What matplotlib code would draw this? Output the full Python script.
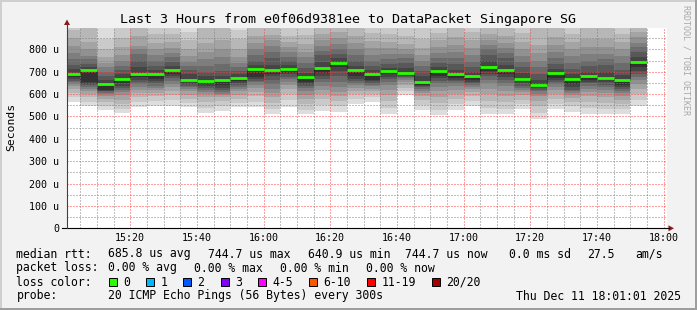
import matplotlib.pyplot as plt
from matplotlib.patches import Rectangle, Polygon

plt.rcParams['font.family'] = 'DejaVu Sans Mono'

# 5 minute slots, start time of each column
slots = ["15:00", "15:05", "15:10", "15:15", "15:20", "15:25", "15:30",
         "15:35", "15:40", "15:45", "15:50", "15:55", "16:00", "16:05",
         "16:10", "16:15", "16:20", "16:25", "16:30", "16:35", "16:40",
         "16:45", "16:50", "16:55", "17:00", "17:05", "17:10", "17:15",
         "17:20", "17:25", "17:30", "17:35", "17:40", "17:45", "17:50"]

# median rtt per slot (us)
medians = [688, 706, 645, 667, 691, 690, 706, 664, 657, 661, 670, 712,
           706, 714, 676, 718, 739, 706, 691, 702, 693, 656, 702, 688,
           679, 721, 706, 669, 640.9, 694, 666, 679, 672, 661, 744.7]

# the 20 pings of each slot (us), sorted
pings = [
    [564, 585, 605, 622, 635, 645, 652, 660, 668, 675, 688, 712, 730, 755, 785, 815, 850, 885, 925, 980],
    [545, 565, 585, 600, 612, 622, 632, 640, 646, 654, 706, 722, 736, 755, 770, 800, 835, 905, 950, 1000],
    [530, 548, 565, 580, 592, 600, 607, 612, 616, 620, 645, 662, 680, 700, 720, 740, 765, 800, 845, 960],
    [515, 535, 555, 575, 595, 608, 618, 628, 638, 648, 667, 690, 706, 725, 750, 775, 810, 850, 915, 970],
    [542, 565, 585, 605, 620, 632, 645, 655, 665, 675, 691, 720, 750, 780, 800, 815, 860, 910, 960, 1020],
    [549, 570, 590, 605, 618, 628, 638, 648, 658, 668, 690, 706, 725, 750, 775, 800, 830, 870, 915, 970],
    [549, 575, 598, 615, 630, 645, 660, 672, 682, 690, 706, 725, 745, 766, 785, 805, 835, 870, 915, 975],
    [542, 560, 580, 598, 612, 622, 630, 638, 645, 652, 664, 690, 710, 725, 745, 770, 800, 840, 880, 930],
    [515, 540, 565, 585, 600, 610, 618, 628, 636, 645, 657, 680, 700, 725, 755, 790, 830, 905, 950, 1000],
    [524, 548, 570, 585, 595, 602, 610, 618, 626, 640, 661, 680, 705, 735, 765, 800, 840, 905, 950, 1000],
    [542, 560, 580, 598, 612, 622, 632, 642, 650, 658, 670, 690, 705, 720, 740, 765, 800, 845, 885, 930],
    [542, 565, 590, 610, 628, 642, 652, 660, 668, 675, 712, 730, 750, 775, 800, 830, 860, 905, 950, 1000],
    [512, 535, 560, 585, 605, 625, 645, 665, 680, 692, 706, 730, 760, 790, 815, 840, 865, 895, 930, 990],
    [543, 575, 600, 622, 640, 655, 668, 678, 688, 696, 714, 730, 748, 768, 790, 810, 835, 860, 930, 980],
    [512, 530, 555, 578, 598, 615, 628, 638, 646, 655, 676, 695, 715, 740, 765, 790, 825, 865, 910, 960],
    [524, 550, 578, 600, 620, 638, 655, 668, 680, 695, 718, 745, 773, 795, 815, 840, 870, 905, 950, 1000],
    [520, 545, 568, 590, 610, 632, 655, 680, 705, 720, 739, 760, 780, 800, 825, 850, 880, 910, 955, 1010],
    [557, 580, 600, 615, 628, 640, 650, 660, 668, 680, 706, 725, 750, 775, 800, 830, 860, 905, 950, 1000],
    [564, 585, 602, 615, 625, 635, 643, 650, 657, 665, 691, 708, 725, 748, 775, 805, 838, 875, 920, 970],
    [512, 540, 570, 598, 620, 640, 655, 668, 678, 688, 702, 718, 735, 755, 778, 805, 835, 870, 905, 950],
    [597, 612, 628, 642, 652, 662, 670, 677, 683, 688, 693, 715, 740, 760, 780, 800, 825, 860, 905, 960],
    [527, 550, 572, 592, 605, 615, 622, 630, 636, 642, 656, 680, 705, 725, 748, 775, 805, 845, 910, 960],
    [505, 530, 560, 588, 612, 632, 648, 660, 670, 680, 702, 722, 740, 760, 785, 810, 840, 875, 915, 965],
    [530, 555, 578, 600, 620, 635, 648, 658, 665, 672, 688, 710, 735, 760, 790, 820, 855, 905, 950, 1000],
    [549, 570, 590, 608, 622, 632, 640, 648, 655, 662, 679, 700, 720, 745, 775, 805, 840, 880, 925, 975],
    [512, 540, 570, 600, 625, 648, 665, 680, 692, 705, 721, 750, 775, 800, 818, 840, 870, 905, 950, 1010],
    [512, 535, 565, 592, 615, 635, 650, 665, 678, 690, 706, 730, 760, 785, 805, 830, 860, 905, 950, 1000],
    [534, 555, 575, 595, 608, 618, 628, 638, 648, 658, 669, 695, 720, 745, 770, 800, 835, 875, 920, 970],
    [490, 515, 545, 570, 590, 602, 612, 620, 627, 634, 640.9, 665, 690, 720, 750, 785, 820, 905, 950, 1000],
    [534, 558, 580, 600, 618, 632, 645, 655, 663, 672, 694, 712, 735, 760, 790, 820, 855, 905, 950, 1000],
    [520, 545, 565, 582, 595, 605, 612, 620, 630, 645, 666, 690, 712, 740, 770, 800, 835, 870, 915, 965],
    [512, 538, 565, 590, 610, 625, 638, 648, 656, 664, 679, 700, 725, 750, 780, 810, 845, 905, 950, 1000],
    [512, 535, 560, 585, 605, 620, 632, 642, 652, 662, 672, 700, 730, 755, 780, 810, 845, 905, 950, 1000],
    [512, 532, 555, 575, 592, 605, 615, 623, 632, 642, 661, 685, 710, 740, 770, 800, 835, 870, 915, 960],
    [549, 575, 600, 625, 645, 662, 676, 690, 705, 720, 744.7, 765, 790, 811, 830, 855, 880, 910, 955, 1010],
]

xtick_labels = ["15:20", "15:40", "16:00", "16:20", "16:40",
                "17:00", "17:20", "17:40", "18:00"]
ytick_labels = ["0", "100 u", "200 u", "300 u", "400 u",
                "500 u", "600 u", "700 u", "800 u"]

loss_labels = ["0", "1", "2", "3", "4-5", "6-10", "11-19", "20/20"]
loss_colors = ["#26ff00", "#00b8ff", "#0059ff", "#7e00ff",
               "#ff00ff", "#ff5500", "#ff0000", "#a10000"]

smoke_grays = ['#dddddd', '#cacaca', '#b7b7b7', '#a4a4a4', '#919191',
               '#7e7e7e', '#6b6b6b', '#585858', '#454545', '#323232']

W, H = 697, 310
fig = plt.figure(figsize=(W / 100, H / 100), dpi=100, facecolor='#f2f2f2')
ax = fig.add_axes([67 / W, 1 - 228.3 / H, 600 / W, 200.6 / H])
ax.set_facecolor('white')

# minutes after 15:00
t0 = [int(s[:2]) * 60 + int(s[3:]) - 900 for s in slots]

# smoke: outer pairs light, inner pairs dark
for k, col in enumerate(pings):
    p = sorted(col)
    for i in range(10):
        ax.bar(t0[k], p[19 - i] - p[i], bottom=p[i], width=5, align='edge',
               color=smoke_grays[i], linewidth=0, zorder=1)

xs = t0 + [t0[-1] + 5]
ys = medians + [medians[-1]]
ax.plot(xs, ys, drawstyle='steps-post', color='black', ls=(0, (1, 1)),
        lw=0.72, zorder=3)
ax.hlines(medians, t0, [t + 5 for t in t0], color=loss_colors[0], lw=2.0,
          zorder=4)

ax.set_xlim(1.02, 181.02)
ax.set_ylim(0, 897)
ax.set_xticks(range(20, 181, 20))
ax.set_xticklabels(xtick_labels)
ax.set_xticks(range(5, 181, 5), minor=True)
ax.set_yticks(range(0, 801, 100))
ax.set_yticklabels(ytick_labels)
ax.set_yticks(range(50, 900, 100), minor=True)
ax.set_axisbelow(False)
ax.grid(which='major', color=(1, 0.25, 0.25, 0.24), lw=0.72, ls=(0, (1, 2)))
ax.grid(which='minor', color=(0.5, 0.5, 0.5, 0.28), lw=0.72, ls=(0, (1, 2)))
ax.tick_params(which='both', length=0, labelsize=7.2)
ax.tick_params(axis='x', pad=3.3)
ax.tick_params(axis='y', pad=5.6)
for s in ax.spines.values():
    s.set_visible(False)

# overlay in pixel coordinates for frame, axes arrows and legend
ov = fig.add_axes([0, 0, 1, 1], facecolor='none')
ov.set_xlim(0, W)
ov.set_ylim(H, 0)
ov.axis('off')
ov.add_patch(Rectangle((0, 0), W, 2, color='#cfcfcf', lw=0))
ov.add_patch(Rectangle((0, 0), 2, H, color='#cfcfcf', lw=0))
ov.add_patch(Rectangle((0, H - 2), W, 2, color='#9e9e9e', lw=0))
ov.add_patch(Rectangle((W - 2, 0), 2, H, color='#9e9e9e', lw=0))

ov.plot([62, 669], [228.3, 228.3], color='black', lw=0.8)
ov.plot([67, 67], [24, 228.3], color='#404040', lw=0.8)
ov.add_patch(Polygon([(67, 19.5), (64, 25), (70, 25)], color='#8b1a1a', lw=0))
ov.add_patch(Polygon([(674, 228.3), (668.5, 225.3), (668.5, 231.3)],
                     color='#8b1a1a', lw=0))

ov.text(348.5, 19, "Last 3 Hours from e0f06d9381ee to DataPacket Singapore SG",
        ha='center', va='center', fontsize=9.6)
ov.text(11, 127, "Seconds", rotation=90, ha='center', va='center', fontsize=8.2)
ov.text(686, 60, "RRDTOOL / TOBI OETIKER", rotation=270, ha='center',
        va='center', fontsize=6, color='#a8a8a8')

fs = 8.3
ov.text(16.5, 254, "median rtt:", va='center', fontsize=fs)
for x, s in [(108, "685.8 us avg"), (208, "744.7 us max"), (308, "640.9 us min"),
             (405, "744.7 us now"), (509, "0.0 ms sd"), (587, "27.5"), (635, "am/s")]:
    ov.text(x, 254, s, va='center', fontsize=fs)

ov.text(16.5, 268, "packet loss:", va='center', fontsize=fs)
for x, s in [(108, "0.00 % avg"), (194, "0.00 % max"), (280, "0.00 % min"),
             (366, "0.00 % now")]:
    ov.text(x, 268, s, va='center', fontsize=fs)

ov.text(16.5, 282, "loss color:", va='center', fontsize=fs)
box_x = [109, 146.4, 183, 220.5, 257.6, 309, 367, 432]
for bx, lab, c in zip(box_x, loss_labels, loss_colors):
    ov.add_patch(Rectangle((bx, 278), 8, 8, facecolor=c, edgecolor='black', lw=0.7))
    ov.text(bx + 14.5, 282, lab, va='center', fontsize=fs)

ov.text(16.5, 296, "probe:", va='center', fontsize=fs)
ov.text(108, 296, "20 ICMP Echo Pings (56 Bytes) every 300s", va='center', fontsize=fs)
ov.text(681, 296, "Thu Dec 11 18:01:01 2025", ha='right', va='center', fontsize=fs)

fig.savefig("out.png", dpi=100, facecolor=fig.get_facecolor())
